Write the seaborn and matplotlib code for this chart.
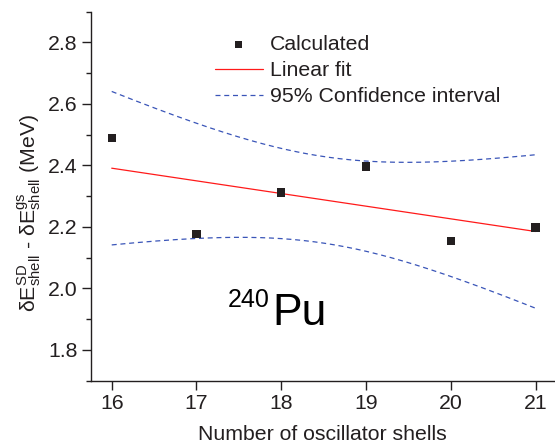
import numpy as np
import pandas as pd
import matplotlib
matplotlib.use("Agg")
import matplotlib.pyplot as plt
import seaborn as sns
from matplotlib.ticker import MultipleLocator

# ---- data ----
shells = [16, 17, 18, 19, 20, 21]
delta_e = [2.490, 2.177, 2.312, 2.397, 2.155, 2.198]
x_ticks = [16, 17, 18, 19, 20, 21]
y_ticks = [1.8, 2.0, 2.2, 2.4, 2.6, 2.8]
t_975_dof4 = 2.776  # Student t, 95% two-sided, 4 degrees of freedom

sns.set_style("ticks")
plt.rcParams["font.family"] = ["Liberation Sans", "DejaVu Sans"]
plt.rcParams["mathtext.fontset"] = "custom"
plt.rcParams["mathtext.rm"] = "Liberation Sans"
plt.rcParams["mathtext.it"] = "Liberation Sans"
plt.rcParams["mathtext.bf"] = "Liberation Sans"
plt.rcParams["mathtext.sf"] = "Liberation Sans"

df = pd.DataFrame({"shells": shells, "dE": delta_e})

# linear fit and analytic 95% confidence band
x = np.array(shells, dtype=float)
y = np.array(delta_e)
slope, intercept = np.polyfit(x, y, 1)
resid = y - (slope * x + intercept)
s = np.sqrt(np.sum(resid ** 2) / (len(x) - 2))
xg = np.linspace(x.min(), x.max(), 200)
yfit = slope * xg + intercept
se = s * np.sqrt(1 / len(x) + (xg - x.mean()) ** 2 / np.sum((x - x.mean()) ** 2))
fit_df = pd.DataFrame({"x": xg, "fit": yfit,
                       "upper": yfit + t_975_dof4 * se,
                       "lower": yfit - t_975_dof4 * se})

W, H = 555, 445
fig = plt.figure(figsize=(W / 100, H / 100), dpi=100)
left, right, top, bottom = 90.7, 555, 11.7, 380.7
ax = fig.add_axes([left / W, (H - bottom) / H, (right - left) / W, (bottom - top) / H])

sns.lineplot(data=fit_df, x="x", y="fit", ax=ax, color="#ff1a1a", lw=0.9,
             label="Linear fit", zorder=2)
sns.lineplot(data=fit_df, x="x", y="upper", ax=ax, color="#3a55b8", lw=0.9,
             linestyle=(0, (4, 3)), label="95% Confidence interval", zorder=2)
sns.lineplot(data=fit_df, x="x", y="lower", ax=ax, color="#3a55b8", lw=0.9,
             linestyle=(0, (4, 3)), label="_nolegend_", zorder=2)
sns.scatterplot(data=df, x="shells", y="dE", ax=ax, marker="s", s=36,
                color="#231f20", edgecolor="none", label="Calculated", zorder=3)

FS = 15.3
ax.set_xlim(15.752, 21.23)
ax.set_ylim(1.7, 2.9)
ax.set_xticks(x_ticks)
ax.set_yticks(y_ticks)
ax.yaxis.set_minor_locator(MultipleLocator(0.1))
ax.tick_params(axis="both", which="major", direction="out", length=6.5, width=1,
               labelsize=FS, colors="#231f20", pad=3)
ax.tick_params(axis="y", which="minor", direction="out", length=3.5, width=1,
               colors="#231f20")
for sp in ["top", "right"]:
    ax.spines[sp].set_visible(False)
for sp in ["left", "bottom"]:
    ax.spines[sp].set_linewidth(1)
    ax.spines[sp].set_color("#231f20")

ax.set_xlabel("Number of oscillator shells", fontsize=FS, color="#231f20")
ax.xaxis.set_label_coords(0.5, -(440 - 380.7) / 369.0)
ax.xaxis.label.set_va("baseline")
ax.set_ylabel(r"$\delta$E$^{\mathregular{SD}}_{\mathregular{shell}}$ - "
              r"$\delta$E$^{\mathregular{gs}}_{\mathregular{shell}}$ (MeV)",
              fontsize=FS, color="#231f20")
ax.yaxis.set_label_coords(-0.1, 0.455)

handles, labels = ax.get_legend_handles_labels()
order = [labels.index("Calculated"), labels.index("Linear fit"),
         labels.index("95% Confidence interval")]
leg = ax.legend([handles[i] for i in order], [labels[i] for i in order],
                loc="upper left", bbox_to_anchor=(215 / W, 1 - 35 / H),
                bbox_transform=fig.transFigure, frameon=False, fontsize=FS,
                handlelength=2.25, handletextpad=0.35, labelspacing=0.34,
                borderpad=0, borderaxespad=0, markerscale=0.85)
for t in leg.get_texts():
    t.set_color("#231f20")

ax.text(17.37, 1.94, "240", fontsize=18, color="black", va="baseline", ha="left")
ax.text(17.89, 1.882, "Pu", fontsize=32, color="black", va="baseline", ha="left")

fig.savefig("out.png", dpi=100)
